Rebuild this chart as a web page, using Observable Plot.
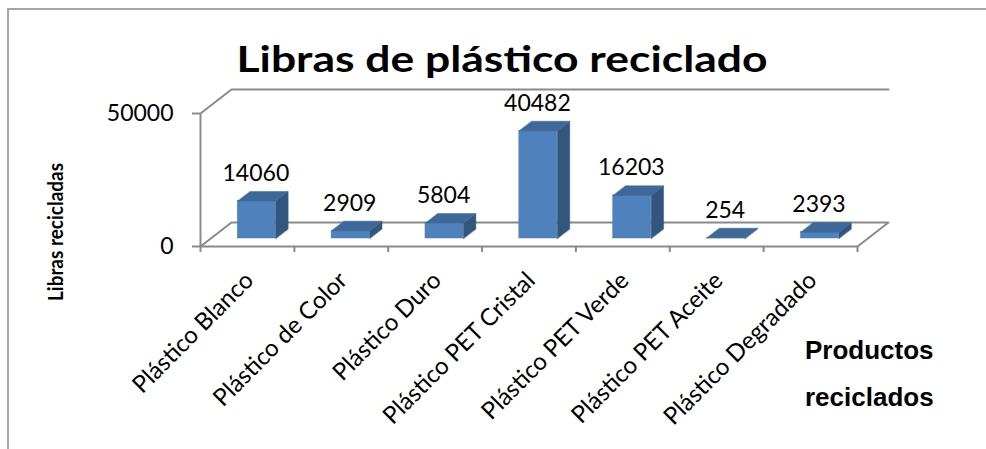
<!DOCTYPE html>
<html><head><meta charset="utf-8">
<script src="https://cdn.jsdelivr.net/npm/d3@7"></script>
<script src="https://cdn.jsdelivr.net/npm/@observablehq/plot@0.6"></script>
<style>
html,body{margin:0;padding:0;background:#fff;}
#chart{position:relative;width:986px;height:449px;overflow:hidden;}
</style></head><body><div id="chart"></div>
<script>
const categories = ["Plástico Blanco","Plástico de Color","Plástico Duro","Plástico PET Cristal","Plástico PET Verde","Plástico PET Aceite","Plástico Degradado"];
const values = [14060, 2909, 5804, 40482, 16203, 254, 2393];
const yTicks = [0, 50000];
const titleText = "Libras de plástico reciclado";
const yLabelText = "Libras recicladas";
const xLabelLines = ["Productos", "reciclados"];

// style / geometry constants
const GRID = "#8a8a8a", FRONT = "#4F81BD", TOP = "#3D6899", SIDE = "#33567F";
const DX = 0.33, DY = 9023;      // depth of the 3D floor (x units, y units)
const T0 = 0.333, T1 = 0.733;    // bar depth range (fraction of floor depth)
const B0 = 0.287, BW = 0.405;    // bar offset / width in band units

const n = categories.length;
const yMax = yTicks[yTicks.length - 1];
const data = categories.map((c, i) => ({c, i, v: values[i]}));
const fx1 = d => d.i + B0 + T0 * DX;
const fx2 = d => d.i + B0 + BW + T0 * DX;
const by = T0 * DY;
const ddx = (T1 - T0) * DX, ddy = (T1 - T0) * DY;

const tops = data.flatMap(d => [
  {k: d.i, x: fx1(d), y: d.v + by}, {k: d.i, x: fx2(d), y: d.v + by},
  {k: d.i, x: fx2(d) + ddx, y: d.v + by + ddy}, {k: d.i, x: fx1(d) + ddx, y: d.v + by + ddy}]);
const sides = data.flatMap(d => [
  {k: d.i, x: fx2(d), y: by}, {k: d.i, x: fx2(d), y: d.v + by},
  {k: d.i, x: fx2(d) + ddx, y: d.v + by + ddy}, {k: d.i, x: fx2(d) + ddx, y: by + ddy}]);
const floor = [{x: 0, y: 0}, {x: DX, y: DY}, {x: n + DX, y: DY}, {x: n, y: 0}];
const wallTop = [{x: 0, y: yMax}, {x: DX, y: yMax + DY}, {x: n + DX, y: yMax + DY}];

const plot = Plot.plot({
  width: 986, height: 449,
  marginLeft: 200, marginRight: 129, marginTop: 113, marginBottom: 203,
  x: {domain: [0, n]},
  y: {domain: [0, yMax]},
  style: {fontFamily: "Lato", background: "transparent", color: "#000"},
  marks: [
    Plot.line(floor, {x: "x", y: "y", stroke: GRID, strokeWidth: 2}),
    Plot.line(wallTop, {x: "x", y: "y", stroke: GRID, strokeWidth: 2}),
    Plot.ruleY([0], {x1: 0, x2: n, stroke: GRID, strokeWidth: 2}),
    Plot.ruleX([0], {y1: 0, y2: yMax, stroke: GRID, strokeWidth: 2}),
    Plot.axisY({ticks: yTicks, tickSize: 8, tickPadding: 19, fontSize: 23, stroke: GRID, strokeWidth: 2, strokeOpacity: 1, tickFormat: d => String(d), label: null}),
    Plot.axisX({ticks: d3.range(n + 1), tickSize: 6, tickFormat: () => "", stroke: GRID, strokeWidth: 2, strokeOpacity: 1, label: null}),
    Plot.rect(data, {x1: fx1, x2: fx2, y1: by, y2: d => d.v + by, fill: FRONT, stroke: FRONT, strokeWidth: 0.5}),
    Plot.line(sides, {x: "x", y: "y", z: "k", fill: SIDE, stroke: SIDE, strokeWidth: 0.5, curve: "linear-closed"}),
    Plot.line(tops, {x: "x", y: "y", z: "k", fill: TOP, stroke: TOP, strokeWidth: 0.5, curve: "linear-closed"}),
    Plot.text(data, {x: d => d.i + 0.59, y: d => d.v + by + ddy, text: d => String(d.v), dy: -18, fontSize: 23, lineAnchor: "middle", fill: "#000"}),
    Plot.text(data, {x: d => d.i + 0.5, y: 0, text: "c", rotate: -45, textAnchor: "end", dy: 30, dx: 2, fontSize: 24, lineAnchor: "middle", fill: "#000"})
  ]
});

const svg = d3.select(plot);
svg.append("path").attr("d", "M8,449V9H986").attr("fill", "none").attr("stroke", "#a6a6a6").attr("stroke-width", 2);
svg.append("text").text(titleText)
  .attr("x", 502).attr("y", 72).attr("text-anchor", "middle")
  .attr("font-family", "Lato").attr("font-weight", 700).attr("font-size", 37)
  .attr("textLength", 531).attr("lengthAdjust", "spacingAndGlyphs").attr("fill", "#000");
svg.append("text").text(yLabelText)
  .attr("transform", "translate(63,232) rotate(-90)").attr("text-anchor", "middle")
  .attr("font-family", "Lato").attr("font-weight", 700).attr("font-size", 20)
  .attr("textLength", 138).attr("lengthAdjust", "spacingAndGlyphs").attr("fill", "#000");
xLabelLines.forEach((t, j) => {
  svg.append("text").text(t)
    .attr("x", 805).attr("y", 359 + j * 47).attr("text-anchor", "start")
    .attr("font-family", "Liberation Sans").attr("font-weight", 700).attr("font-size", 26)
    .attr("fill", "#000");
});
document.getElementById("chart").appendChild(plot);
</script>
</body></html>
